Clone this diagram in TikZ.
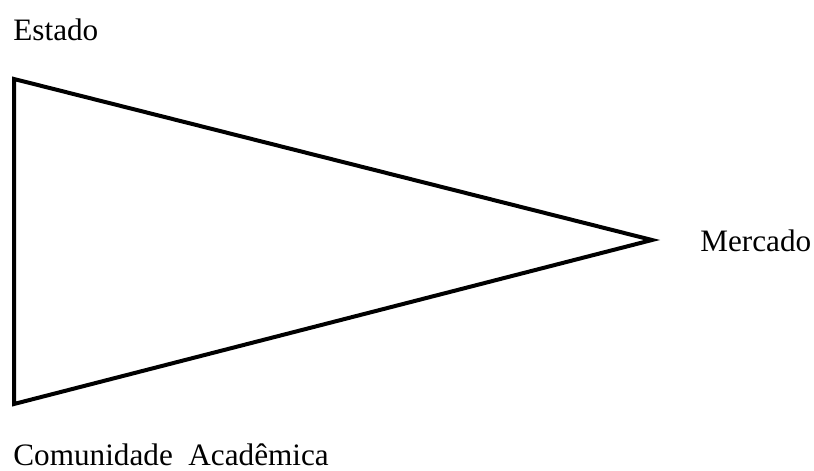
\documentclass[tikz,border=0pt]{standalone}
\usepackage{fontspec}
\setmainfont{Liberation Serif}
\usetikzlibrary{positioning}
\tikzset{
  rotulo/.style={inner sep=0pt,anchor=base west,font=\fontsize{15.6}{18}\selectfont},
  lado/.style={line width=2pt,line join=miter}
}
\begin{document}
\begin{tikzpicture}[x=0.5pt,y=-0.5pt]
  \useasboundingbox (0,0) rectangle (814,471);
  % vertices do triangulo
  \coordinate (estado) at (14,79);
  \coordinate (comunidade) at (14,404);
  \coordinate (mercado) at (652,240);
  \draw[lado] (estado) -- (mercado) -- (comunidade) -- cycle;
  % rotulos
  \node[rotulo] (lestado) at (13,40) {Estado};
  \node[rotulo] (lmercado) at (700,251) {Mercado};
  \node[rotulo] (lcomunidade) at (13,465) {Comunidade\ \ Acadêmica};
\end{tikzpicture}
\end{document}
